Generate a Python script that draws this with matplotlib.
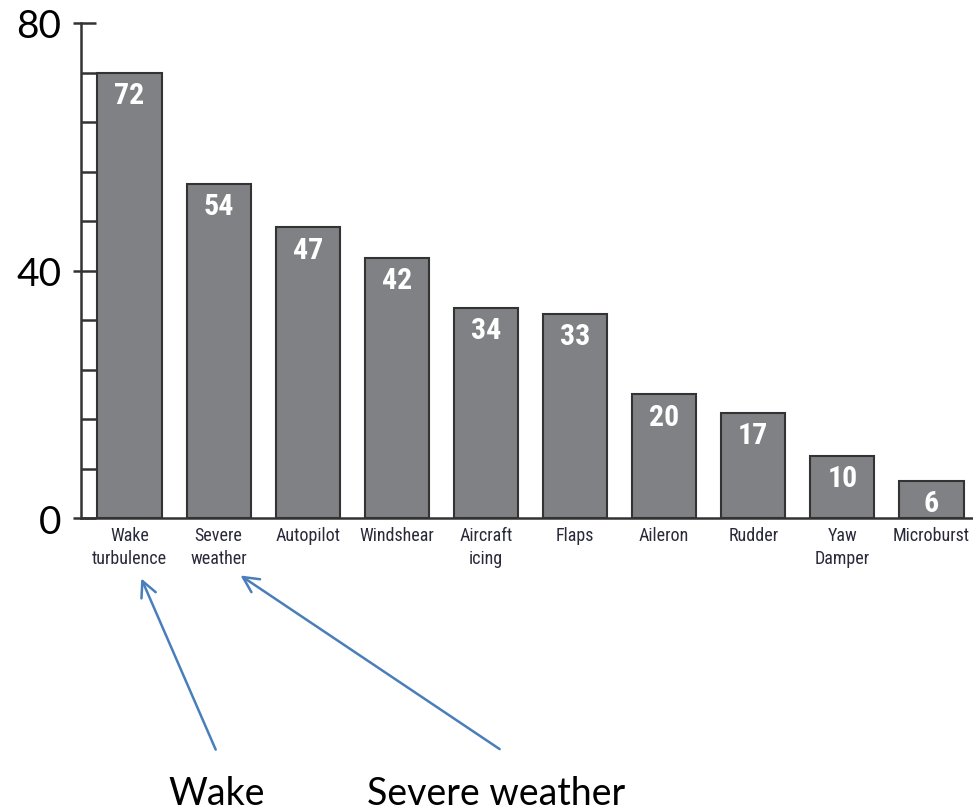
import numpy as np
import matplotlib.pyplot as plt
from matplotlib.ticker import MultipleLocator, FixedLocator

# Data
categories = ['Wake\nturbulence', 'Severe\nweather', 'Autopilot', 'Windshear',
              'Aircraft\nicing', 'Flaps', 'Aileron', 'Rudder', 'Yaw\nDamper', 'Microburst']
counts = [72, 54, 47, 42, 34, 33, 20, 17, 10, 6]
major_ticks = [0, 40, 80]

narrow = ['Roboto Condensed', 'Liberation Sans Narrow', 'Roboto', 'DejaVu Sans']
big_font = ['Lato', 'DejaVu Sans']

fig = plt.figure(figsize=(9.73, 8.12), dpi=100)
ax = fig.add_axes([81/973, 293/812, 892/973, 495/812])

x = np.arange(len(categories))
bars = ax.bar(x, counts, width=0.72, color='#808185', edgecolor='#333333', linewidth=1.5)

# Value labels inside the top of each bar
for xi, v in zip(x, counts):
    ax.annotate(str(v), xy=(xi, v), xytext=(0, -6), textcoords='offset points',
                ha='center', va='top', color='white', fontsize=21.5,
                fontweight='bold', family=narrow)

ax.set_xlim(-0.544, 9.466)
ax.set_ylim(0, 80)

# Axes styling
for side in ['top', 'right']:
    ax.spines[side].set_visible(False)
for side in ['left', 'bottom']:
    ax.spines[side].set_color('#333333')
    ax.spines[side].set_linewidth(1.8)

ax.yaxis.set_major_locator(FixedLocator(major_ticks))
ax.yaxis.set_minor_locator(MultipleLocator(8))
ax.yaxis.remove_overlapping_locs = False
ax.tick_params(axis='y', which='major', direction='out', length=6, width=1.8,
               color='#333333', pad=8, labelsize=28)
ax.tick_params(axis='y', which='minor', direction='in', length=11, width=1.8,
               color='#333333')
for lbl in ax.get_yticklabels():
    lbl.set_family(big_font)

ax.set_xticks(x)
ax.set_xticklabels(categories, family=narrow, fontsize=13, color='#2a2a3a',
                   linespacing=1.35)
ax.tick_params(axis='x', length=0, pad=6)

# Arrows pointing to the first two labels
arrow_kw = dict(arrowstyle='->', color='#4a7ebb', lw=1.8, mutation_scale=28)
ax.annotate('', xy=(0.12, -0.117), xycoords=('data', 'axes fraction'),
            xytext=(0.98, -0.473), textcoords=('data', 'axes fraction'),
            arrowprops=arrow_kw, annotation_clip=False)
ax.annotate('', xy=(1.22, -0.113), xycoords=('data', 'axes fraction'),
            xytext=(4.18, -0.47), textcoords=('data', 'axes fraction'),
            arrowprops=arrow_kw, annotation_clip=False)
ax.text(0.975, -0.520, 'Wake', transform=ax.get_xaxis_transform(),
        ha='center', va='top', fontsize=27, family=big_font, color='black')
ax.text(4.12, -0.520, 'Severe weather', transform=ax.get_xaxis_transform(),
        ha='center', va='top', fontsize=27, family=big_font, color='black')

fig.savefig('out.png', dpi=100)
